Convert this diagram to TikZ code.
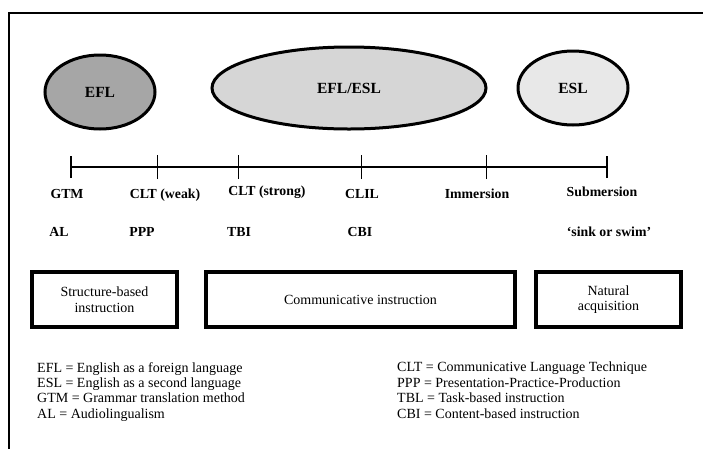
\documentclass[tikz,border=0pt]{standalone}
\usepackage{fontspec}
\setmainfont{Liberation Serif}
\usetikzlibrary{shapes.geometric}
\begin{document}
\begin{tikzpicture}[x=1pt,y=-1pt,
  oval/.style={ellipse,draw=black,line width=3pt,inner sep=0pt,font=\fontsize{15.5}{17}\selectfont\bfseries},
  lbl/.style={font=\fontsize{13.8}{16}\selectfont\bfseries,inner sep=0pt,anchor=base},
  catbox/.style={draw=black,line width=3.6pt,inner sep=0pt,align=center,font=\fontsize{14}{15.5}\selectfont},
  legend/.style={font=\fontsize{14}{15.4}\selectfont,inner sep=0pt,anchor=north west,align=left},
  tickthin/.style={line width=0.8pt},
  tickthick/.style={line width=2.2pt}]
\useasboundingbox (0,0) rectangle (703,448);
% frame
\coordinate (fa) at (9,470);
\coordinate (fb) at (9,13);
\coordinate (fc) at (720,13);
\draw[line width=2pt] (fa) -- (fb) -- (fc);
% ellipses
\node[oval,fill=black!35,minimum width=110,minimum height=74] (efl) at (100,92) {EFL};
\node[oval,fill=black!16,minimum width=274,minimum height=82,text depth=0pt,yshift=-2] (eflesl) at (349,86) {EFL/ESL};
\node[oval,fill=black!9,minimum width=110,minimum height=74] (esl) at (573,88) {ESL};
% timeline
\coordinate (t0) at (71,167);
\coordinate (t1) at (157,167);
\coordinate (t2) at (238,167);
\coordinate (t3) at (361,167);
\coordinate (t4) at (486,167);
\coordinate (t5) at (607,167);
\draw[line width=1.6pt] (t0) -- (t5);
\draw[tickthick] ([yshift=-11]t0) -- ([yshift=11]t0);
\draw[tickthick] ([yshift=-11]t5) -- ([yshift=11]t5);
\foreach \t in {t1,t2,t3,t4}{\draw[tickthin] ([yshift=-12]\t) -- ([yshift=12]\t);}
% labels row 1
\node[lbl] (gtm) at (67,198) {GTM};
\node[lbl] (cltw) at (165,198) {CLT (weak)};
\node[lbl] (clts) at (267,195) {CLT (strong)};
\node[lbl] (clil) at (362,198) {CLIL};
\node[lbl] (imm) at (477,198) {Immersion};
\node[lbl] (sub) at (602,196) {Submersion};
% labels row 2
\node[lbl] (al) at (59,236) {AL};
\node[lbl] (ppp) at (142,236) {PPP};
\node[lbl] (tbi) at (239,236) {TBI};
\node[lbl] (cbi) at (360,236) {CBI};
\node[lbl] (sink) at (609,236) {‘sink or swim’};
% boxes
\node[catbox,minimum width=145,minimum height=55] (sbi) at (104.5,299.5) {Structure-based\\instruction};
\node[catbox,minimum width=309,minimum height=55] (ci) at (360.5,299.5) {Communicative instruction};
\node[catbox,minimum width=145,minimum height=55] (na) at (608.5,299.5) {Natural\\acquisition};
% legends
\node[legend] (legl) at (37,362) {EFL = English as a foreign language\\ESL = English as a second language\\GTM = Grammar translation method\\AL = Audiolingualism};
\node[legend] (legr) at (397,362) {CLT = Communicative Language Technique\\PPP = Presentation-Practice-Production\\TBL = Task-based instruction\\CBI = Content-based instruction};
\end{tikzpicture}
\end{document}
